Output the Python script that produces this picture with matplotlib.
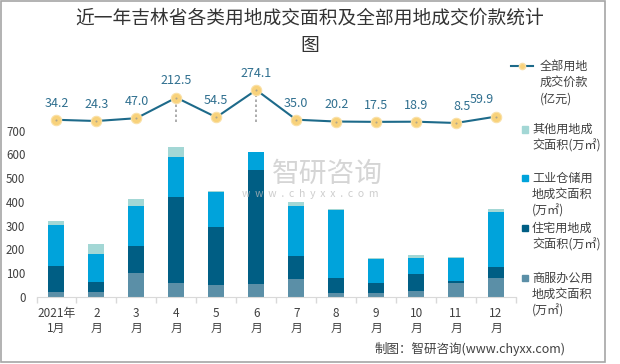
import matplotlib.pyplot as plt
from matplotlib.lines import Line2D
from matplotlib.patches import Rectangle
import numpy as np

plt.rcParams['font.family'] = ['Noto Sans CJK SC', 'DejaVu Sans']

# data
months = ['2021年\n1月', '2\n月', '3\n月', '4\n月', '5\n月', '6\n月',
          '7\n月', '8\n月', '9\n月', '10\n月', '11\n月', '12\n月']
shangfu = [22, 22, 101, 60, 50, 53, 76, 17, 17, 24, 60, 81]      # 商服办公用地
zhuzhai = [108, 40, 114, 362, 245, 481, 98, 62, 41, 74, 9, 47]   # 住宅用地
gongye = [173, 120, 167, 168, 147, 77, 209, 288, 102, 67, 94, 228]  # 工业仓储用地
qita = [16, 41, 30, 43, 2, 1, 17, 3, 4, 12, 4, 13]               # 其他用地
price = [34.2, 24.3, 47.0, 212.5, 54.5, 274.1, 35.0, 20.2, 17.5, 18.9, 8.5, 59.9]

c_shangfu = '#5B8FA7'
c_zhuzhai = '#005E84'
c_gongye = '#00A3DB'
c_qita = '#A3D7D5'
c_line = '#1D6A8A'
c_marker = '#F8D27B'
c_text = '#404040'

W, H = 620, 364


def px(x, y):
    return x / W, 1 - y / H


fig = plt.figure(figsize=(W / 100, H / 100), dpi=100)
ax = fig.add_axes([36.5 / W, 1 - 297 / H, (516 - 36.5) / W, (297 - 62) / H])

x = np.arange(len(months))
bw = 0.4
b1 = np.array(shangfu)
b2 = b1 + np.array(zhuzhai)
b3 = b2 + np.array(gongye)
ax.bar(x, shangfu, bw, color=c_shangfu)
ax.bar(x, zhuzhai, bw, bottom=b1, color=c_zhuzhai)
ax.bar(x, gongye, bw, bottom=b2, color=c_gongye)
ax.bar(x, qita, bw, bottom=b3, color=c_qita)

ax.set_xlim(-0.5, len(months) - 0.5)
ax.set_ylim(0, 989)
ax.set_yticks(range(0, 800, 100))
ax.tick_params(axis='y', length=0, pad=8, labelsize=8.3, labelcolor=c_text)
ax.set_xticks(x)
ax.set_xticklabels(months, linespacing=1.25)
ax.set_xticks(np.arange(-0.5, len(months), 1), minor=True)
ax.tick_params(axis='x', which='major', length=0, pad=7, labelsize=8.5, labelcolor=c_text)
ax.tick_params(axis='x', which='minor', length=4, color='#D9D9D9', width=1)
for s in ['left', 'right', 'top']:
    ax.spines[s].set_visible(False)
ax.spines['bottom'].set_color('#D9D9D9')

# watermark
fig.text(*px(327, 174), '智研咨询', fontsize=20, color='#C8C8C8', ha='center', va='center', alpha=0.75)
fig.text(*px(310, 194), 'w  w  w  .  c  h  y  x  x  .  c  o  m', fontsize=7.5, color='#BDBDBD',
         ha='center', va='center', alpha=0.75)

# price line on hidden secondary axis
ax2 = ax.twinx()
ax2.set_ylim(-1391, 499)
ax2.axis('off')
for i in [3, 5]:
    ax2.vlines(x[i], min(price) + 10, price[i], colors='#A0A0A0', linestyles=(0, (1.5, 1.5)), lw=1.2, zorder=2)
ax2.plot(x, price, color=c_line, lw=1.5, marker='o', ms=7.5, mfc=c_marker, mec='#FAE0A6', mew=0.8, zorder=3)
ax2.plot(x, price, ls='none', marker='o', ms=1.5, mfc='#B0A58A', mec='none', zorder=4)
xoff = [0] * len(price)
xoff[10] = 4
xoff[11] = -10
for i, v in enumerate(price):
    ax2.annotate(f'{v:.1f}', (x[i], v), xytext=(xoff[i], 12), textcoords='offset points',
                 ha='center', va='center', fontsize=9, color='#2F6F8F')

# title
fig.text(*px(310, 18), '近一年吉林省各类用地成交面积及全部用地成交价款统计', fontsize=13.5,
         color='#333333', ha='center', va='center')
fig.text(*px(310, 45), '图', fontsize=13.5, color='#333333', ha='center', va='center')

# legend drawn by hand
pitch = 16.5
fig.add_artist(Line2D([511 / W, 533 / W], [1 - 66 / H] * 2, color=c_line, lw=1.5))
fig.add_artist(Line2D([522 / W], [1 - 66 / H], marker='o', ms=4.5, mfc=c_marker, mec='#FAE0A6', color=c_line))
for k, t in enumerate(['全部用地', '成交价款', '(亿元)']):
    fig.text(*px(540, 66 + k * pitch), t, fontsize=8.7, color=c_text, va='center')
legend_items = [
    (c_qita, ['其他用地成', '交面积(万㎡)'], 129.5),
    (c_gongye, ['工业仓储用', '地成交面积', '(万㎡)'], 178),
    (c_zhuzhai, ['住宅用地成', '交面积(万㎡)'], 228),
    (c_shangfu, ['商服办公用', '地成交面积', '(万㎡)'], 278),
]
for col, lines, y0 in legend_items:
    fig.add_artist(Rectangle(px(521.5, y0 + 3), 6 / W, 6 / H, color=col, transform=fig.transFigure))
    for k, t in enumerate(lines):
        fig.text(*px(532, y0 + k * pitch), t, fontsize=8.7, color=c_text, va='center')

# footer
fig.text(*px(566, 349), '制图：智研咨询(www.chyxx.com)', fontsize=9, color=c_text, ha='right', va='center')

# frame
fig.add_artist(Rectangle(px(1, 362), 604 / W, 361 / H, fill=False, ec='#A6A6A6', lw=1.2,
                         transform=fig.transFigure))

fig.savefig('out.png', dpi=100)
